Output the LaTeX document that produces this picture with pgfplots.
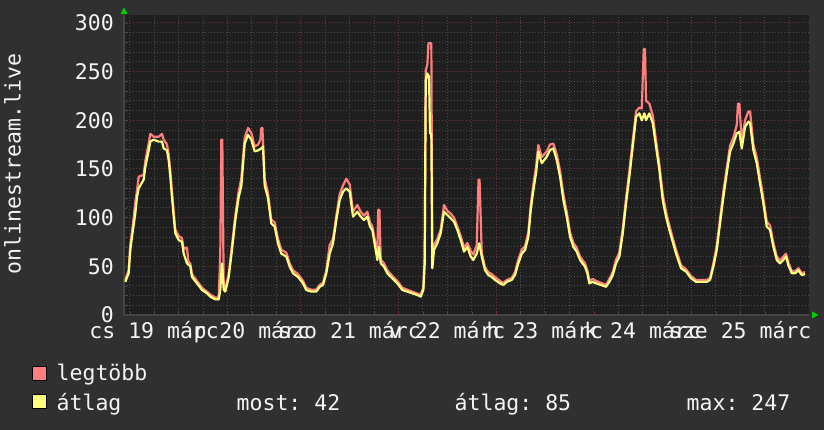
\documentclass[border=0pt]{standalone}
\usepackage{pgfplots}
\pgfplotsset{compat=1.18}
\usepackage{pgfplotstable}
\usepackage{fontspec}
\setmainfont{DejaVu Sans Mono}
\newfontfamily\monof{DejaVu Sans Mono}
\newcommand{\lf}{\monof\fontsize{21.5bp}{25bp}\selectfont\frenchspacing}
\definecolor{bgout}{HTML}{303030}
\definecolor{bgin}{HTML}{1F1F1F}
\definecolor{maxc}{HTML}{FF7F7F}
\definecolor{avgc}{HTML}{FFFF7F}
\definecolor{gridminor}{HTML}{4C4C4C}
\definecolor{gridmajor}{HTML}{6E3636}
\definecolor{axisc}{HTML}{444444}
\definecolor{txt}{HTML}{F4F4F4}
\definecolor{arrowc}{HTML}{00D000}

\pgfplotstableread{
h avg
4.91 34
5.74 43
6.14 67
6.55 80
7.36 104
7.78 121
8.20 130
9.43 139
9.82 152
10.66 169
11.05 178
11.89 180
13.11 178
13.93 178
14.34 171
15.15 169
15.57 159
15.97 142
16.38 121
16.80 101
17.19 84
18.03 77
18.84 75
19.26 63
20.07 53
20.88 50
21.30 39
22.53 32.5
23.75 25.7
24.98 22.3
25.79 18.8
27.02 16.1
27.86 16
28.25 25.7
28.67 53
29.09 26
29.48 24
30.32 39
31.13 67
31.94 97.5
32.77 121
33.41 132
34.25 176
35.06 185
35.87 180
36.71 168
37.52 169
38.33 171
38.74 173
39.16 133
39.97 120
40.78 94
41.62 90.7
42.43 73.6
43.24 63
44.47 60
45.30 49.6
46.12 42.8
47.35 39
48.57 32.5
49.38 25.7
50.61 24
51.84 24
52.68 29
53.49 30.8
54.30 42.8
55.13 63
55.94 73.6
56.76 97.5
57.59 118
58.40 126.6
59.21 130
60.05 126.6
60.86 101
61.92 106
62.75 101
63.56 97.5
64.38 101
65.04 90.7
65.61 87
66.44 66.7
66.84 56.5
67.25 70
67.67 53
68.48 49.6
69.29 42.8
70.52 37.7
71.75 32.5
72.97 25.7
74.20 24
75.43 22.3
76.66 20.5
77.50 18.8
78.14 25.7
78.48 53
78.73 241
79.12 248
79.54 244.7
79.78 186.5
80.10 186
80.35 48
80.76 66.7
81.57 73.6
82.41 84
83.22 106
84.03 102.7
84.87 99.3
85.68 95.8
86.49 87.3
87.33 77
88.14 65
88.95 70
89.78 60
90.42 56.5
91.26 63
91.90 73.6
92.49 60
93.30 46
94.11 41
94.94 39
95.75 36
96.98 32.5
97.79 30.8
98.63 34
99.86 36
100.67 41
101.48 53
102.32 63
103.13 66.7
103.94 80
104.53 107.8
105.17 128
105.83 145.5
106.40 167.7
107.23 155.8
108.46 162.5
109.27 169.4
110.08 171
110.92 159
111.73 142
112.54 118
113.37 101
114.18 80.4
115.00 70
115.83 65
116.64 56.5
117.87 49.6
118.49 42
118.93 32.5
119.75 34
120.57 32.5
121.80 30.8
123.03 29
123.84 34
124.68 41
125.49 53
126.30 60
127.14 84
127.95 114.7
128.76 142
129.59 172.8
130.41 203.6
131.22 207
131.81 200
132.45 207
132.86 200
133.67 207
134.51 197
135.32 172.8
136.13 149
136.96 118
137.77 101
138.59 87.3
139.42 75
140.23 63
141.46 48
142.69 44.5
143.92 37.7
145.15 34
146.38 34
147.77 34
148.59 36
149.40 49.6
150.23 66.7
151.04 94
151.86 121
152.69 145.5
153.50 167.7
154.31 176
155.15 186.5
155.79 188
156.38 171
157.19 193
158.00 198.5
158.42 197
159.23 169.4
160.06 155.8
160.87 135
161.68 114.7
162.52 90.7
163.33 87.3
164.14 70
164.98 56.5
165.79 53
166.60 56.5
167.26 60
167.83 51
168.67 42.8
169.48 42.8
170.29 46
171.12 41
171.93 42
}\avgtable

\pgfplotstableread{
h max
4.91 36
5.74 46
6.14 72
6.55 85
7.36 115
7.78 128
8.20 142
9.43 144
9.82 158
10.66 176
11.05 186
11.89 183
13.11 183
13.93 186
14.34 180
15.15 175
15.57 165
15.97 148
16.38 127
16.80 106
17.19 88
18.03 81
18.84 79
19.26 67
19.70 69
20.07 69
20.40 55
20.88 53
21.30 42
22.53 35
23.75 28
24.98 24
25.79 21
27.02 18
27.86 18
28.25 63
28.50 180
28.74 180
29.09 30
29.48 27
30.32 42
31.13 72
31.94 102
32.77 127
33.41 140
34.25 182
35.06 192
35.87 187
36.71 173
37.52 175
38.10 180
38.33 192
38.60 192
38.74 178
39.16 140
39.97 125
40.78 98
41.62 95
42.43 78
43.24 67
44.47 64
45.30 53
46.12 46
47.35 42
48.57 35
49.38 28
50.61 26
51.84 26
52.68 31
53.49 33
54.30 46
55.13 72
55.94 78
56.76 102
57.59 124
58.40 133
59.21 140
60.05 134
60.86 106
61.92 113
62.75 106
63.56 102
64.38 106
65.04 95
65.61 91
66.44 72
66.84 62
67.05 108
67.35 108
67.67 57
68.48 53
69.29 46
70.52 40
71.75 35
72.97 28
74.20 26
75.43 24
76.66 22
77.50 21
78.14 28
78.48 60
78.73 251
79.12 257
79.40 279
80.10 279
80.35 55
80.76 72
81.57 78
82.41 88
83.22 113
84.03 107
84.87 104
85.68 100
86.49 91
87.33 81
88.14 69
88.95 74
89.78 66
90.42 62
91.26 72
91.70 139
91.95 139
92.49 64
93.30 49
94.11 44
94.94 42
95.75 39
96.98 35
97.79 33
98.63 36
99.86 38
100.67 44
101.48 57
102.32 67
103.13 71
103.94 85
104.53 113
105.17 134
105.83 152
106.40 174.5
107.23 162
108.46 168
109.27 175
110.08 176
110.92 165
111.73 148
112.54 124
113.37 106
114.18 85
115.00 74
115.83 69
116.64 60
117.87 53
118.49 45
118.93 35
119.75 37
120.57 35
121.80 33
123.03 31
123.84 37
124.68 44
125.49 57
126.30 64
127.14 89
127.95 120
128.76 148
129.59 179
130.41 209
131.22 213
131.81 212
132.30 273
132.60 273
132.86 220
133.67 217
134.51 205
135.32 179
136.13 155
136.96 124
137.77 106
138.59 92
139.42 79
140.23 67
141.46 51
142.69 47
143.92 40
145.15 36
146.38 36
147.77 36
148.59 38
149.40 53
150.23 71
151.04 99
151.86 127
152.69 151
153.50 174
154.31 182
155.15 195
155.45 217
155.79 217
156.38 178
157.19 200
158.00 209
158.42 209
159.23 175
160.06 162
160.87 141
161.68 120
162.52 96
163.33 92
164.14 74
164.98 60
165.79 56
166.60 60
167.26 63
167.83 54
168.67 45
169.48 45
170.29 48
171.12 43
171.93 44
}\maxtable

\begin{document}
\frenchspacing
\begin{tikzpicture}
\fill[bgout] (0,0) rectangle (824bp,430bp);
\useasboundingbox (0,0) rectangle (824bp,430bp);
\begin{axis}[
  at={(124bp,115bp)}, anchor=south west,
  scale only axis, width=685bp, height=300bp,
  xmin=4.59, xmax=172.9, ymin=0, ymax=308,
  axis background/.style={fill=bgin},
  axis lines*=left,
  axis line style={draw=axisc, line width=1.2bp, -},
  xtick={12,36,60,84,108,132,156},
  xticklabels={cs 19 márc, p 20 márc, szo 21 márc, v 22 márc, h 23 márc, k 24 márc, sze 25 márc},
  minor xtick={6,12,...,168},
  extra x ticks={24,48,72,96,120,144,168},
  extra x tick labels={},
  extra x tick style={xmajorgrids=true, major grid style={gridmajor, dash pattern=on 1bp off 2bp, line width=0.8bp}, major tick length=3bp, tick style={gridmajor}},
  ytick={0,50,...,300},
  minor ytick={10,20,...,300},
  xmajorgrids=false, xminorgrids=true,
  ymajorgrids=true, yminorgrids=true,
  minor grid style={gridminor, dash pattern=on 1bp off 2bp, line width=0.8bp},
  major grid style={gridmajor, dash pattern=on 1bp off 2bp, line width=0.8bp},
  major tick length=0pt,
  minor tick length=3bp,
  tick style={gridminor},
  /pgf/number format/assume math mode=true,
  tick label style={font=\lf, text=txt},
  xticklabel style={anchor=base, inner sep=0pt, yshift=-24bp},
  yticklabel style={anchor=east, inner sep=0pt, xshift=-10bp},
  clip=true,
]
\addplot[maxc, line width=2.2bp, line join=round] table[x=h, y=max] {\maxtable};
\addplot[avgc, line width=2.2bp, line join=round] table[x=h, y=avg] {\avgtable};
\end{axis}
% axis arrows
\fill[arrowc] (812bp,111.5bp) -- (818.5bp,115bp) -- (812bp,118.5bp) -- cycle;
\fill[arrowc] (120.5bp,416bp) -- (124bp,422.5bp) -- (127.5bp,416bp) -- cycle;
% y label
\node[rotate=90, anchor=base, inner sep=0pt, text=txt, font=\lf] at (20.5bp,266bp) {onlinestream.live};
% legend
\filldraw[fill=maxc, draw=black, line width=1bp] (32bp,49bp) rectangle (46bp,63bp);
\filldraw[fill=avgc, draw=black, line width=1bp] (32bp,21bp) rectangle (46bp,35bp);
\node[anchor=base west, inner sep=0pt, text=txt, font=\lf] at (56.5bp,49bp) {legtöbb};
\node[anchor=base west, inner sep=0pt, text=txt, font=\lf] at (56.5bp,20bp) {átlag};
\node[anchor=base west, inner sep=0pt, text=txt, font=\lf] at (236.5bp,20bp) {most: 42};
\node[anchor=base west, inner sep=0pt, text=txt, font=\lf] at (454.5bp,20bp) {átlag: 85};
\node[anchor=base west, inner sep=0pt, text=txt, font=\lf] at (686.5bp,20bp) {max: 247};
\end{tikzpicture}
\end{document}
